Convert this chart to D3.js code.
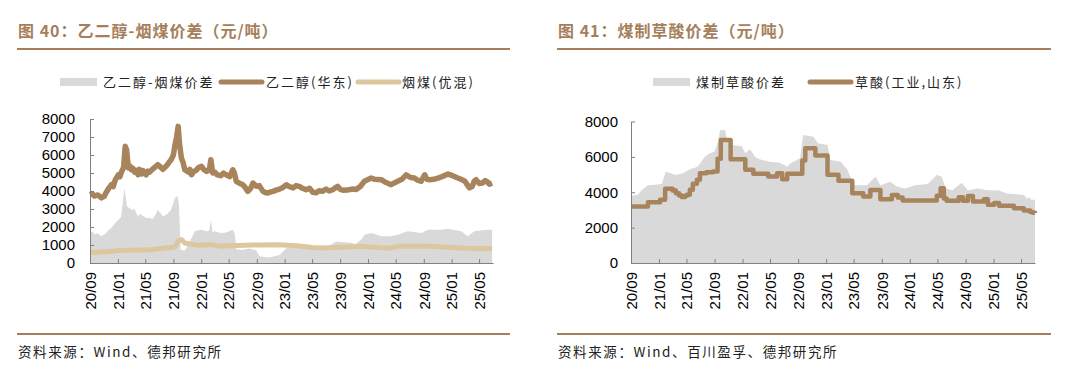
<!DOCTYPE html>
<html lang="zh">
<head>
<meta charset="UTF-8">
<title>价差</title>
<script src="https://cdn.jsdelivr.net/npm/d3@7"></script>
<style>
  body { margin: 0; background: #fff; }
  svg { display: block; }
  .cn { font-family: "Noto Sans CJK SC", sans-serif; }
  .tick text { font-family: "Liberation Sans", Arial, sans-serif; font-size: 15px; fill: #000; }
</style>
</head>
<body>
<svg id="chart" width="1080" height="380"></svg>
<script>
// 图40 数据
const egPrice = [ // 乙二醇(华东)
  ["2020-09-01",3800],["2020-09-10",3850],["2020-09-20",3720],["2020-10-05",3780],["2020-10-21",3620],
  ["2020-11-02",3700],["2020-11-10",3900],["2020-11-22",4150],["2020-12-04",4350],["2020-12-12",4250],
  ["2020-12-20",4600],["2021-01-03",4900],["2021-01-10",4800],["2021-01-18",5100],["2021-01-26",5300],
  ["2021-02-02",6480],["2021-02-08",6300],["2021-02-16",5280],["2021-02-22",5400],["2021-03-01",5180],
  ["2021-03-08",5250],["2021-03-15",5050],["2021-03-22",5150],["2021-03-30",4900],["2021-04-05",5200],
  ["2021-04-10",5150],["2021-04-16",4950],["2021-04-21",5130],["2021-05-05",4900],["2021-05-12",5100],
  ["2021-05-20",5050],["2021-06-01",5200],["2021-06-10",5300],["2021-06-25",5460],["2021-07-05",5350],
  ["2021-07-17",5200],["2021-07-25",5300],["2021-08-05",5450],["2021-08-22",5740],["2021-09-01",6000],
  ["2021-09-07",6480],["2021-09-15",7000],["2021-09-22",7590],["2021-09-28",6600],["2021-10-06",5830],
  ["2021-10-13",5600],["2021-10-21",5180],["2021-11-05",5050],["2021-11-12",5200],["2021-11-19",4900],
  ["2021-12-01",5100],["2021-12-10",5150],["2021-12-20",5300],["2022-01-02",5370],["2022-01-12",5200],
  ["2022-01-24",5090],["2022-02-05",5150],["2022-02-12",5740],["2022-02-20",5000],["2022-03-01",5050],
  ["2022-03-12",4900],["2022-03-28",4850],["2022-04-08",5000],["2022-04-20",4900],["2022-05-05",4800],
  ["2022-05-19",5180],["2022-05-26",5000],["2022-06-03",4540],["2022-06-15",4450],["2022-07-02",4350],
  ["2022-07-12",4200],["2022-07-24",3980],["2022-08-05",4150],["2022-08-15",4440],["2022-08-30",4260],
  ["2022-09-12",4300],["2022-09-28",3980],["2022-10-08",3920],["2022-10-20",3890],["2022-11-01",3950],
  ["2022-11-11",3980],["2022-11-25",4050],["2022-12-10",4110],["2022-12-25",4200],["2023-01-09",4350],
  ["2023-01-20",4250],["2023-02-07",4170],["2023-02-20",4300],["2023-03-06",4260],["2023-03-20",4150],
  ["2023-04-05",4070],["2023-04-20",4150],["2023-05-04",3930],["2023-05-18",3900],["2023-06-02",4020],
  ["2023-06-15",3980],["2023-07-01",4110],["2023-07-15",4000],["2023-07-30",4070],["2023-08-21",4260],
  ["2023-09-01",4100],["2023-09-13",4040],["2023-10-01",4050],["2023-10-26",4110],["2023-11-10",4080],
  ["2023-11-28",4250],["2023-12-16",4540],["2024-01-15",4720],["2024-01-30",4650],["2024-02-28",4630],
  ["2024-03-15",4500],["2024-04-11",4350],["2024-04-25",4450],["2024-05-10",4540],["2024-05-28",4650],
  ["2024-06-16",4900],["2024-07-05",4750],["2024-07-22",4720],["2024-08-05",4600],["2024-08-21",4540],
  ["2024-09-05",4900],["2024-09-15",4650],["2024-09-27",4630],["2024-10-15",4650],["2024-11-02",4720],
  ["2024-11-20",4800],["2024-12-16",4940],["2025-01-05",4850],["2025-01-28",4720],["2025-02-12",4650],
  ["2025-02-28",4540],["2025-03-10",4350],["2025-03-20",4170],["2025-04-01",4250],["2025-04-10",4550],
  ["2025-04-18",4630],["2025-05-02",4420],["2025-05-16",4440],["2025-05-28",4580],["2025-06-05",4520],
  ["2025-06-15",4380],["2025-06-27",4440]
];
const coalPrice = [ // 烟煤(优混)
  ["2020-09-01",590],["2020-12-01",640],["2021-01-03",700],["2021-05-20",740],["2021-09-07",890],
  ["2021-09-25",1250],["2021-10-06",1300],["2021-10-21",1110],["2021-12-15",980],["2022-02-12",1020],
  ["2022-03-28",925],["2022-05-01",960],["2022-08-15",1000],["2022-12-10",1020],["2023-02-20",960],
  ["2023-05-04",860],["2023-06-15",830],["2023-10-26",900],["2023-12-01",925],["2024-03-01",850],
  ["2024-04-11",830],["2024-05-10",925],["2024-10-01",925],["2024-12-20",870],["2025-03-01",820],
  ["2025-06-27",800]
];
const egSpread = [ // 乙二醇-烟煤价差
  ["2020-09-01",1670],["2020-09-10",1750],["2020-09-23",1600],["2020-10-05",1650],["2020-10-21",1480],
  ["2020-11-10",1650],["2020-11-22",1850],["2020-12-04",1940],["2020-12-18",2200],["2021-01-03",2400],
  ["2021-01-15",2550],["2021-01-30",4170],["2021-02-10",3150],["2021-03-01",2960],["2021-03-15",3000],
  ["2021-03-30",2590],["2021-04-10",2750],["2021-04-21",2600],["2021-05-07",2500],["2021-05-20",2500],
  ["2021-06-02",2450],["2021-06-15",2700],["2021-06-25",2960],["2021-07-17",2590],["2021-08-03",2700],
  ["2021-08-22",2960],["2021-09-07",3600],["2021-09-18",3740],["2021-09-25",3300],["2021-10-03",740],
  ["2021-10-21",700],["2021-11-12",1200],["2021-12-04",1760],["2022-01-02",1850],["2022-01-24",1760],
  ["2022-02-05",1800],["2022-02-12",2400],["2022-02-20",1700],["2022-03-01",1760],["2022-03-28",1670],
  ["2022-04-20",1700],["2022-05-19",1850],["2022-05-28",1600],["2022-06-04",750],["2022-07-02",740],
  ["2022-07-31",800],["2022-08-30",700],["2022-09-13",370],["2022-10-26",300],["2022-12-10",450],
  ["2023-01-09",830],["2023-03-06",850],["2023-05-04",800],["2023-07-01",850],["2023-08-14",1200],
  ["2023-10-26",1110],["2023-11-03",1020],["2023-12-03",1300],["2023-12-16",1570],["2024-01-15",1670],
  ["2024-02-28",1480],["2024-04-11",1480],["2024-05-10",1570],["2024-06-23",1760],["2024-08-21",1670],
  ["2024-09-19",1850],["2024-11-17",1850],["2024-12-16",1900],["2025-02-12",1760],["2025-03-12",1480],
  ["2025-04-10",1760],["2025-06-06",1850],["2025-06-27",1850]
];

// 图41 数据
const oxalicPrice = [ // 草酸(工业,山东)
  ["2020-09-01",3200],["2020-11-14",3430],["2021-01-06",3580],["2021-01-28",4200],["2021-03-02",4100],
  ["2021-03-16",3950],["2021-03-30",3820],["2021-04-11",3730],["2021-04-25",3800],["2021-05-03",3860],
  ["2021-05-16",4140],["2021-05-29",4480],["2021-06-16",4700],["2021-06-29",5080],["2021-07-27",5130],
  ["2021-08-25",5180],["2021-09-14",5900],["2021-09-28",6960],["2021-11-10",5870],["2022-01-13",5270],
  ["2022-02-17",5040],["2022-04-23",4890],["2022-06-01",5080],["2022-06-23",4740],["2022-07-15",5040],
  ["2022-09-19",5800],["2022-10-02",6490],["2022-11-15",6080],["2023-01-07",4990],["2023-02-24",4650],
  ["2023-04-25",3950],["2023-06-12",3760],["2023-07-13",4130],["2023-08-26",3600],["2023-10-15",3850],
  ["2023-11-10",3700],["2023-12-01",3530],["2024-04-14",3530],["2024-04-28",3800],["2024-05-15",4220],
  ["2024-05-29",3650],["2024-06-10",3520],["2024-08-02",3720],["2024-08-20",3520],["2024-09-11",3790],
  ["2024-10-03",3480],["2024-11-20",3610],["2024-12-07",3290],["2025-01-04",3390],["2025-01-25",3240],
  ["2025-03-31",3100],["2025-05-13",2970],["2025-06-10",2880],["2025-06-22",2840],["2025-07-01",2820]
];
const oxalicSpread = [ // 煤制草酸价差
  ["2020-09-01",3800],["2020-10-01",3860],["2020-10-18",4120],["2020-11-14",4400],["2020-12-14",4430],
  ["2021-01-13",4460],["2021-01-31",5160],["2021-02-26",5050],["2021-03-18",4970],["2021-04-15",5070],
  ["2021-05-16",5300],["2021-06-19",5440],["2021-07-20",6010],["2021-08-11",6200],["2021-09-01",6300],
  ["2021-09-16",6860],["2021-09-25",7500],["2021-10-16",7520],["2021-10-31",6700],["2021-12-01",6650],
  ["2021-12-28",6620],["2022-01-13",6200],["2022-02-03",6430],["2022-02-24",6010],["2022-03-15",5860],
  ["2022-05-01",5730],["2022-06-13",5670],["2022-07-15",5440],["2022-07-28",5630],["2022-09-09",5920],
  ["2022-09-23",7240],["2022-11-06",7140],["2022-11-27",6770],["2023-01-07",6670],["2023-01-20",5820],
  ["2023-03-05",5730],["2023-04-04",5290],["2023-04-30",4400],["2023-06-30",4400],["2023-07-13",4590],
  ["2023-08-05",4880],["2023-08-26",4400],["2023-10-08",4590],["2023-11-07",4310],["2023-12-12",4210],
  ["2024-01-25",4400],["2024-03-20",4460],["2024-04-28",4970],["2024-05-20",4880],["2024-06-06",4210],
  ["2024-07-06",4120],["2024-08-15",4540],["2024-09-11",4120],["2024-10-24",4210],["2024-12-06",4120],
  ["2025-01-25",4100],["2025-03-01",3930],["2025-04-13",3880],["2025-05-14",3840],["2025-05-26",3650],
  ["2025-06-08",3700],["2025-06-17",3550],["2025-07-01",3600]
];

const monthTicks = ["20/09","21/01","21/05","21/09","22/01","22/05","22/09","23/01","23/05","23/09",
  "24/01","24/05","24/09","25/01","25/05"];
const leftYTicks = [0,1000,2000,3000,4000,5000,6000,7000,8000];
const rightYTicks = [0,2000,4000,6000,8000];

const brown = "#a8845c", tan = "#dcc79f", gray = "#d9d9d9", titleColor = "#a57f5b";
const parseDay = d3.timeParse("%Y-%m-%d");
const parseTick = d3.timeParse("%y/%m");
const svg = d3.select("#chart");

function panel(o) {
  const g = svg.append("g");
  // 标题和分隔线
  g.append("text").attr("class", "cn").attr("x", o.left).attr("y", 37)
    .attr("font-size", 16).attr("font-weight", "bold").attr("fill", titleColor)
    .attr("letter-spacing", 1).text(o.title);
  g.append("line").attr("x1", o.left - 1).attr("x2", o.right).attr("y1", 49).attr("y2", 49)
    .attr("stroke", titleColor).attr("stroke-width", 2);
  g.append("line").attr("x1", o.left - 1).attr("x2", o.right).attr("y1", 334).attr("y2", 334)
    .attr("stroke", titleColor).attr("stroke-width", 2);
  g.append("text").attr("class", "cn").attr("x", o.left).attr("y", 357)
    .attr("font-size", 13.5).attr("letter-spacing", 1.6).attr("fill", "#222").text(o.source);

  const x = d3.scaleTime().domain([parseDay("2020-09-01"), parseDay("2025-07-01")]).range(o.xr);
  const y = d3.scaleLinear().domain([0, 8000]).range(o.yr);

  o.areas.forEach(a => {
    g.append("path").datum(a.data)
      .attr("fill", gray)
      .attr("d", d3.area().x(d => x(parseDay(d[0]))).y0(y(0)).y1(d => y(d[1])));
  });
  o.lines.forEach(l => {
    g.append("path").datum(l.data)
      .attr("fill", "none").attr("stroke", l.color).attr("stroke-width", l.width)
      .attr("stroke-linejoin", "round")
      .attr("d", d3.line().curve(l.curve || d3.curveLinear)
        .x(d => x(parseDay(d[0]))).y(d => y(d[1])));
  });

  const xa = g.append("g").attr("transform", `translate(0,${o.yr[0]})`)
    .call(d3.axisBottom(x).tickValues(monthTicks.map(parseTick))
      .tickFormat(d3.timeFormat("%y/%m")).tickSizeInner(-4).tickSizeOuter(0));
  xa.selectAll(".tick text").attr("transform", "rotate(-90)")
    .attr("x", -9).attr("y", 0).attr("dy", "0.35em").attr("text-anchor", "end");

  const ya = g.append("g").attr("transform", `translate(${o.xr[0]},0)`)
    .call(d3.axisLeft(y).tickValues(o.yTicks).tickFormat(d3.format("d"))
      .tickSizeInner(-4).tickSizeOuter(0).tickPadding(o.pad));
  [xa, ya].forEach(a => {
    a.select(".domain").attr("stroke", "#808080");
    a.selectAll(".tick line").attr("stroke", "#808080");
  });

  // 图例
  o.legend.forEach(it => {
    if (it.type === "rect") {
      g.append("rect").attr("x", it.x).attr("y", 78).attr("width", 37).attr("height", 8).attr("fill", gray);
    } else {
      g.append("line").attr("x1", it.x).attr("x2", it.x + 41).attr("y1", 82).attr("y2", 82)
        .attr("stroke", it.color).attr("stroke-width", 5).attr("stroke-linecap", "round");
    }
    g.append("text").attr("class", "cn").attr("x", it.tx).attr("y", 87)
      .attr("font-size", 13).attr("letter-spacing", 2).attr("fill", "#222").text(it.label);
  });
}

panel({
  left: 18, right: 510, xr: [90, 493], yr: [263, 119], pad: 15, yTicks: leftYTicks,
  title: "图 40：乙二醇-烟煤价差（元/吨）",
  source: "资料来源：Wind、德邦研究所",
  areas: [{ data: egSpread }],
  lines: [{ data: coalPrice, color: tan, width: 5 }, { data: egPrice, color: brown, width: 5.5 }],
  legend: [
    { type: "rect", x: 60, tx: 103, label: "乙二醇-烟煤价差" },
    { type: "line", x: 221, color: brown, tx: 266, label: "乙二醇(华东)" },
    { type: "line", x: 358, color: tan, tx: 402, label: "烟煤(优混)" }
  ]
});

panel({
  left: 558, right: 1051, xr: [631, 1035], yr: [263, 121.5], pad: 13, yTicks: rightYTicks,
  title: "图 41：煤制草酸价差（元/吨）",
  source: "资料来源：Wind、百川盈孚、德邦研究所",
  areas: [{ data: oxalicSpread }],
  lines: [{ data: oxalicPrice, color: brown, width: 4.5, curve: d3.curveStepAfter }],
  legend: [
    { type: "rect", x: 653, tx: 696, label: "煤制草酸价差" },
    { type: "line", x: 810, color: brown, tx: 855, label: "草酸(工业,山东)" }
  ]
});
</script>
</body>
</html>
